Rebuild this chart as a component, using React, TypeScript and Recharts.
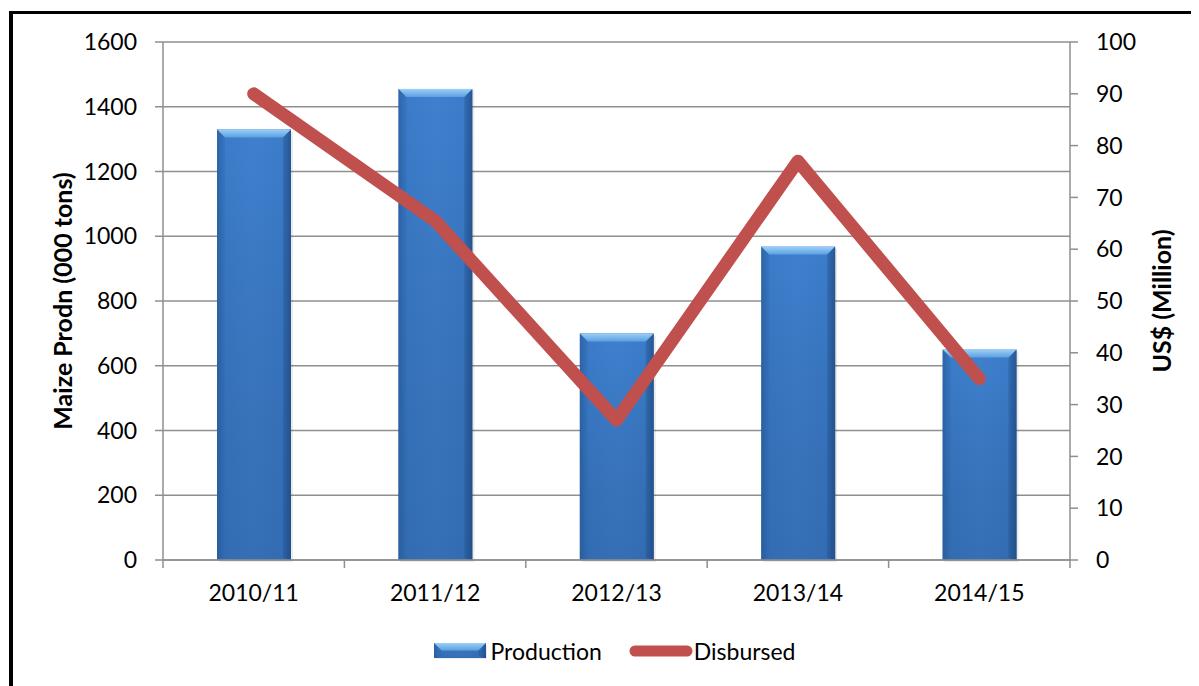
import React from "react";
import {
  Bar,
  CartesianGrid,
  ComposedChart,
  Legend,
  Line,
  XAxis,
  YAxis,
} from "recharts";

const seasons = ["2010/11", "2011/12", "2012/13", "2013/14", "2014/15"];
const production = [1330, 1455, 700, 968, 650];
const disbursed = [90, 65.5, 27, 77, 35];
const prodTicks = [0, 200, 400, 600, 800, 1000, 1200, 1400, 1600];
const usdTicks = [0, 10, 20, 30, 40, 50, 60, 70, 80, 90, 100];

const data = seasons.map((s, i) => ({
  season: s,
  production: production[i],
  disbursed: disbursed[i],
}));

const FONT = "Lato, 'Open Sans', sans-serif";
const GRID = "#8f8f8f";
const RED = "#C0504D";
const TICK_SIZE = 8;
const TICK_MARGIN = 17;

function BevelRect({ x, y, width, height, id }: any) {
  const b = Math.min(8, height / 2, width / 2);
  return (
    <g>
      <defs>
        <linearGradient id={`h-${id}`} x1="0" y1="0" x2="1" y2="0">
          <stop offset="0%" stopColor="#2d62a6" />
          <stop offset="10%" stopColor="#3b7cca" />
          <stop offset="50%" stopColor="#3f80ce" />
          <stop offset="90%" stopColor="#3b7cca" />
          <stop offset="100%" stopColor="#2a5c9c" />
        </linearGradient>
        <linearGradient id={`v-${id}`} x1="0" y1="0" x2="0" y2="1">
          <stop offset="0%" stopColor="#000" stopOpacity={0} />
          <stop offset="100%" stopColor="#0a2040" stopOpacity={0.18} />
        </linearGradient>
        <linearGradient id={`t-${id}`} x1="0" y1="0" x2="0" y2="1">
          <stop offset="0%" stopColor="#9bd0f7" />
          <stop offset="100%" stopColor="#5d9fe2" />
        </linearGradient>
      </defs>
      <rect x={x + 2} y={y + 2} width={width} height={height} fill="#000" fillOpacity={0.08} />
      <rect x={x} y={y} width={width} height={height} fill={`url(#h-${id})`} />
      <rect x={x} y={y} width={width} height={height} fill={`url(#v-${id})`} />
      <polygon
        points={`${x},${y} ${x + width},${y} ${x + width - b},${y + b} ${x + b},${y + b}`}
        fill={`url(#t-${id})`}
      />
      <polygon
        points={`${x},${y} ${x + b},${y + b} ${x + b},${y + height - 2} ${x},${y + height}`}
        fill="#2f69b0"
        fillOpacity={0.35}
      />
      <polygon
        points={`${x + width},${y} ${x + width - b},${y + b} ${x + width - b},${y + height - 2} ${x + width},${y + height}`}
        fill="#1f4c86"
        fillOpacity={0.35}
      />
    </g>
  );
}

function BarShape(props: any) {
  return <BevelRect {...props} id={`bar${props.index}`} />;
}

function SeasonTick(props: any) {
  const { x, y, payload, index, visibleTicksCount, width } = props;
  const bw = width / visibleTicksCount;
  const axisY = y - TICK_SIZE - TICK_MARGIN;
  return (
    <g>
      <line x1={x - bw / 2} x2={x - bw / 2} y1={axisY} y2={axisY + TICK_SIZE} stroke={GRID} strokeWidth={1.5} />
      {index === visibleTicksCount - 1 && (
        <line x1={x + bw / 2} x2={x + bw / 2} y1={axisY} y2={axisY + TICK_SIZE} stroke={GRID} strokeWidth={1.5} />
      )}
      <text x={x} y={y} dy="0.71em" textAnchor="middle" fontSize={23} fontFamily={FONT} fill="#000">
        {payload.value}
      </text>
    </g>
  );
}

function ChartLegend() {
  return (
    <div
      style={{
        display: "flex",
        justifyContent: "center",
        alignItems: "center",
        height: 40,
        paddingLeft: 23,
        fontFamily: FONT,
        fontSize: 23,
        color: "#000",
      }}
    >
      <svg width={53} height={16} style={{ marginRight: 4 }}>
        <BevelRect x={0} y={0} width={52} height={15} id="leg" />
      </svg>
      <span>Production</span>
      <svg width={64} height={16} style={{ marginLeft: 27, marginRight: 1 }}>
        <line x1={6} x2={58} y1={8} y2={8} stroke={RED} strokeWidth={11} strokeLinecap="round" />
      </svg>
      <span>Disbursed</span>
    </div>
  );
}

export default function App() {
  const tick = { fontSize: 23, fontFamily: FONT, fill: "#000" };
  const titleStyle = { fontSize: 25, fontWeight: 700, fontFamily: FONT, fill: "#000" };
  return (
    <div
      style={{
        marginLeft: 1,
        marginTop: 3,
        width: 1190,
        height: 672,
        borderTop: "3px solid #000",
        borderLeft: "4px solid #000",
        background: "#fff",
      }}
    >
      <ComposedChart
        width={1180}
        height={670}
        data={data}
        margin={{ top: 28, right: 0, left: 0, bottom: 13 }}
        barCategoryGap="29%"
      >
        <CartesianGrid yAxisId="left" vertical={false} stroke={GRID} strokeWidth={1.5} />
        <XAxis
          dataKey="season"
          height={71}
          axisLine={{ stroke: GRID, strokeWidth: 1.5 }}
          tickLine={false}
          tickSize={TICK_SIZE}
          tickMargin={TICK_MARGIN}
          tick={<SeasonTick />}
          interval={0}
        />
        <YAxis
          yAxisId="left"
          width={150}
          domain={[0, 1600]}
          ticks={prodTicks}
          interval={0}
          tick={tick}
          tickSize={TICK_SIZE}
          tickMargin={18}
          axisLine={{ stroke: GRID, strokeWidth: 1.5 }}
          tickLine={{ stroke: GRID, strokeWidth: 1.5 }}
          label={{
            value: "Maize Prodn (000 tons)",
            angle: -90,
            position: "insideLeft",
            offset: 50,
            textAnchor: "middle",
            style: titleStyle,
          }}
        />
        <YAxis
          yAxisId="right"
          orientation="right"
          width={123}
          domain={[0, 100]}
          ticks={usdTicks}
          interval={0}
          tick={tick}
          tickSize={TICK_SIZE}
          tickMargin={18}
          axisLine={{ stroke: GRID, strokeWidth: 1.5 }}
          tickLine={{ stroke: GRID, strokeWidth: 1.5 }}
          label={{
            value: "US$ (Million)",
            angle: -90,
            position: "insideRight",
            offset: 31,
            textAnchor: "middle",
            style: titleStyle,
          }}
        />
        <Legend verticalAlign="bottom" content={<ChartLegend />} />
        <Bar
          yAxisId="left"
          dataKey="production"
          name="Production"
          barSize={74}
          shape={<BarShape />}
          isAnimationActive={false}
        />
        <Line
          yAxisId="right"
          type="linear"
          dataKey="disbursed"
          name="Disbursed"
          stroke={RED}
          strokeWidth={13}
          strokeLinecap="round"
          strokeLinejoin="round"
          dot={false}
          activeDot={false}
          isAnimationActive={false}
        />
      </ComposedChart>
    </div>
  );
}
